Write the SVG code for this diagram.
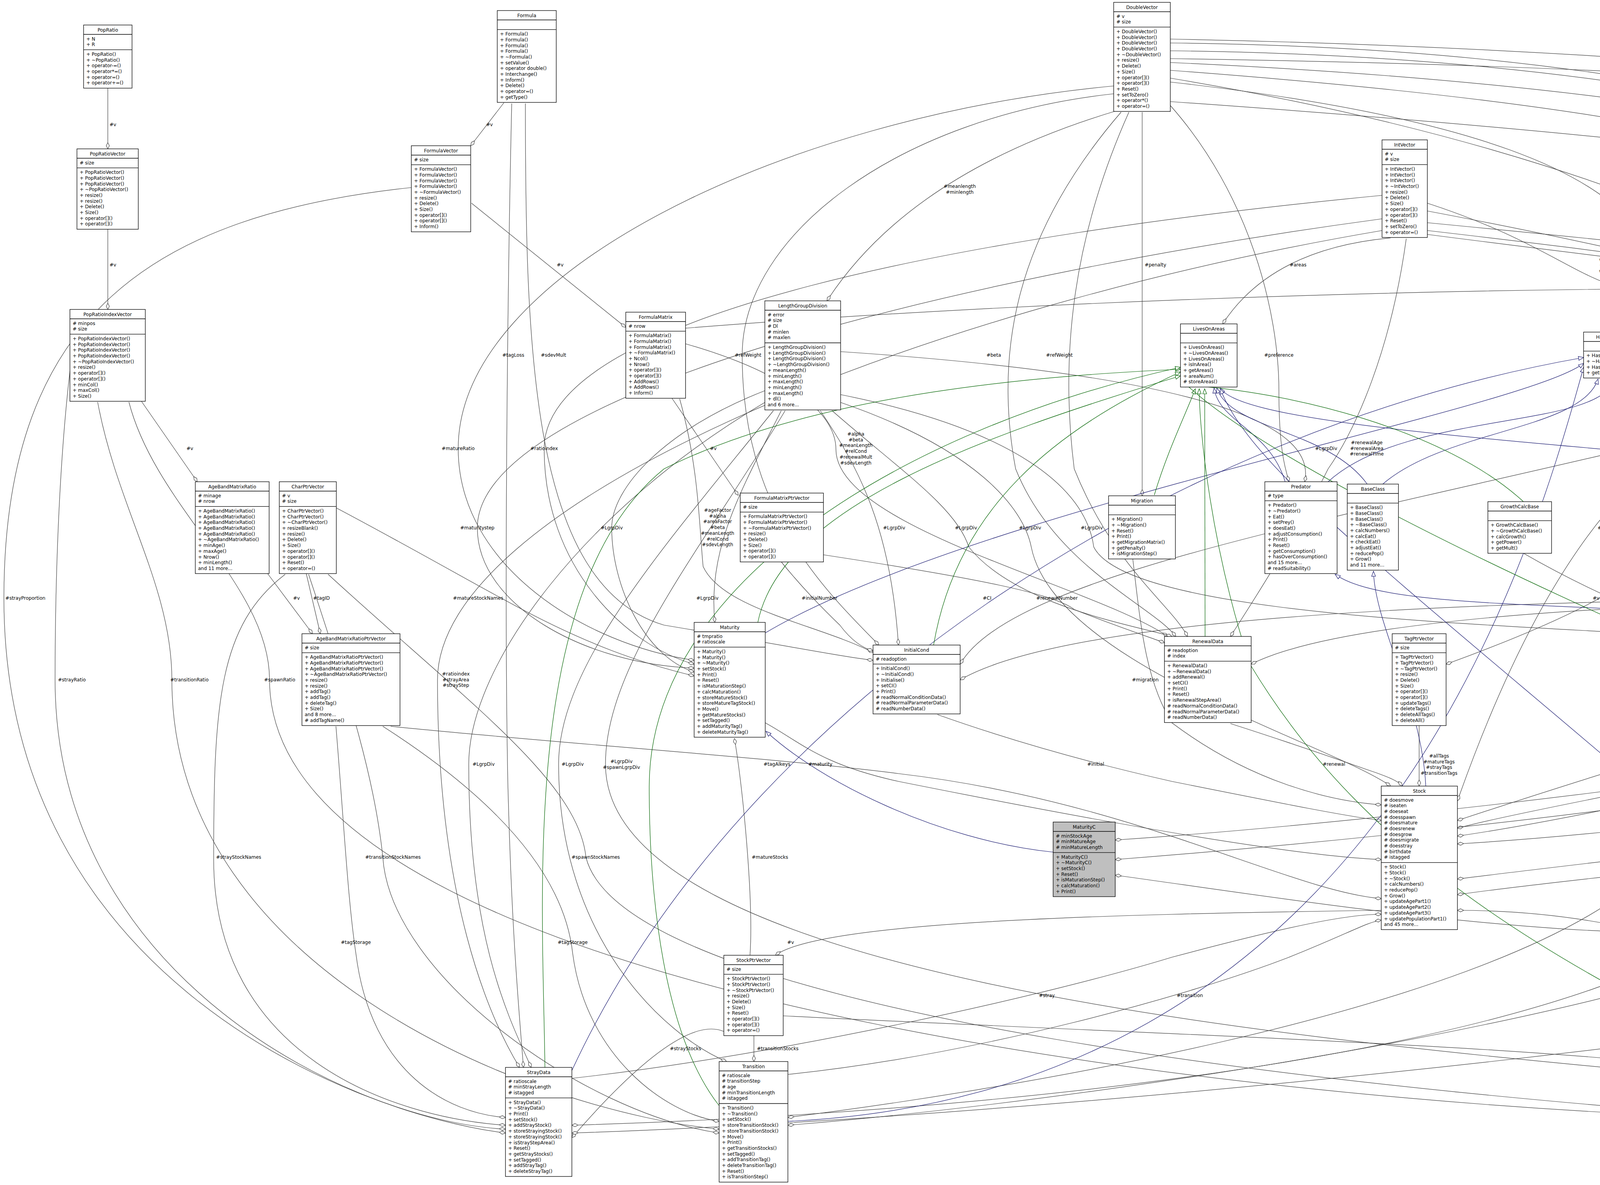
<svg xmlns="http://www.w3.org/2000/svg" width="7673" height="3033" viewBox="0 0 7673 3033">
<style>
text{font-family:"DejaVu Sans","Liberation Sans",sans-serif;font-size:12px;fill:#000}
.t,.l{text-anchor:middle}
rect{fill:#fff;stroke:#000;stroke-width:1.3}
.hl rect{fill:#bfbfbf}
line{stroke:#000;stroke-width:1.3}
.e{fill:none;stroke:#404040;stroke-width:1.2;marker-end:url(#dm)}
.i{fill:none;stroke:#191970;stroke-width:1.2;marker-end:url(#tb)}
.p{fill:none;stroke:#006400;stroke-width:1.2;marker-end:url(#tg)}
</style>
<defs>
<marker id="dm" markerUnits="userSpaceOnUse" markerWidth="16" markerHeight="10" refX="16" refY="5" orient="auto"><path d="M0,5 L8,1 L16,5 L8,9 Z" fill="#fff" stroke="#404040" stroke-width="1.2"/></marker>
<marker id="tb" markerUnits="userSpaceOnUse" markerWidth="15" markerHeight="12" refX="14" refY="6" orient="auto"><path d="M1,1 L14,6 L1,11 Z" fill="#fff" stroke="#191970" stroke-width="1.2"/></marker>
<marker id="tg" markerUnits="userSpaceOnUse" markerWidth="15" markerHeight="12" refX="14" refY="6" orient="auto"><path d="M1,1 L14,6 L1,11 Z" fill="#fff" stroke="#006400" stroke-width="1.2"/></marker>
</defs>
<rect x="0" y="0" width="7673" height="3033" style="fill:#fff;stroke:none"/>
<g id="connectors">
<path class="e" d="M276,226 L276,381"/>
<path class="e" d="M276,587 L276,792"/>
<path class="e" d="M1290,263 L1205,373"/>
<path class="e" d="M1207,520 L1602,838"/>
<path class="e" d="M2860,283 Q2331,441 2117,770"/>
<path class="e" d="M2996,150 C4300,170 5300,230 5640,385"/>
<path class="e" d="M2924,287 L2924,1269"/>
<path class="e" d="M3560,609 Q3255,637 3130,829"/>
<path class="e" d="M5777,585 L5943,807"/>
<path class="e" d="M6360,589 L6410,799"/>
<path class="e" d="M7160,240 L7146,352"/>
<path class="e" d="M7225,240 L7262,373"/>
<path class="e" d="M7085,616 L7060,792"/>
<path class="e" d="M7240,594 Q7394,636 6752,843"/>
<path class="e" d="M6025,1012 L6037,1262"/>
<path class="e" d="M7005,1027 L6975,1218"/>
<path class="e" d="M362,1027 L505,1233"/>
<path class="e" d="M685,1468 L800,1622"/>
<path class="e" d="M784,1468 L820,1622"/>
<path class="e" d="M4632,1078 L4700,1262"/>
<path class="e" d="M1720,1019 L1890,1268"/>
<path class="e" d="M3536,2330 C2800,2340 2100,2360 1985,2445"/>
<path class="e" d="M1930,2651 L1930,2717"/>
<path class="e" d="M1853,2640 Q1741,2592 1464,2912"/>
<path class="e" d="M3633,1857 L3633,2012"/>
<path class="e" d="M4575,1078 L4550,1578"/>
<path class="e" d="M4530,1078 L4480,1578"/>
<path class="e" d="M4490,1060 Q4050,1147 3731,2050"/>
<path class="e" d="M4659,820 C5100,850 5390,1000 5400,1239"/>
<path class="e" d="M4659,1000 C5000,1100 5230,1300 5450,1629"/>
<path class="e" d="M4490,1070 C3600,1300 2600,1450 2458,1700"/>
<path class="e" d="M2996,200 C4200,400 5020,800 5020,1148 L5040,1665"/>
<path class="e" d="M6362,900 C5600,950 5180,1050 5080,1269"/>
<path class="e" d="M3654,540 C4500,700 5270,900 5290,1148 C5300,1400 5480,1500 5500,1629"/>
<path class="e" d="M5700,617 C5680,900 5650,1200 5600,1300 C5300,1500 4900,1550 4628,1620"/>
<path class="e" d="M5740,617 C5760,1000 5720,1400 5600,1480 C5200,1560 4800,1600 4628,1660"/>
<path class="e" d="M4200,1461 Q4086,1560 3702,1700"/>
<path class="e" d="M3900,1416 Q4150,1560 4439,1650"/>
<path class="e" d="M6797,1440 C5800,1500 4800,1531 4704,1531 C3500,1540 2700,1600 2458,1740"/>
<path class="e" d="M6797,1460 C6000,1500 5300,1531 5077,1531 C4000,1540 3400,1600 3203,1700"/>
<path class="e" d="M5100,1433 Q5180,1531 5140,1665"/>
<path class="e" d="M4439,1880 Q4169,1956 3731,2100"/>
<path class="e" d="M5031,1800 C4700,1900 4529,1956 4300,2000 C4000,2060 3800,2100 3731,2120"/>
<path class="e" d="M5425,1840 C4900,1920 4632,1956 4400,2010 C4000,2100 3800,2130 3731,2140"/>
<path class="e" d="M6071,1800 C5600,1900 5247,1956 4800,2040 C4300,2120 3900,2150 3731,2160"/>
<path class="e" d="M2996,130 C4800,150 5834,600 5834,1100 C5834,1500 5700,1650 5641,1700"/>
<path class="e" d="M6650,1014 C6500,1100 6488,1300 6400,1450 C6100,1600 5800,1650 5641,1660"/>
<path class="e" d="M2996,110 C5000,130 5900,700 5891,1351 C5885,1600 5400,1700 5196,1720"/>
<path class="e" d="M6100,1014 C6240,1150 6243,1400 6100,1550 C5900,1680 5700,1690 5641,1690"/>
<path class="e" d="M5780,520 C6300,700 6385,1100 6385,1351 C6385,1900 3500,2150 2855,2200"/>
<path class="e" d="M6680,1014 C6600,1150 6593,1400 6400,1550 C5800,1700 5000,1690 4628,1700"/>
<path class="e" d="M6720,1014 C6740,1200 6740,1500 6500,1600 C6100,1700 5800,1690 5641,1680"/>
<path class="e" d="M7300,596 C7240,900 7242,1200 7242,1351 C7242,1900 4500,2150 3731,2250"/>
<path class="e" d="M5990,1440 C5950,1550 5800,1700 5641,1750"/>
<path class="e" d="M6420,1021 C6400,1300 6375,1450 6300,1560 C5500,1900 3600,2100 2855,2150"/>
<path class="e" d="M6850,1485 C6600,1530 6300,1560 6231,1659"/>
<path class="e" d="M6960,1485 L6960,2550 C6960,2800 5500,2860 4949,2865"/>
<path class="e" d="M6950,1485 C6950,1700 6900,1900 6500,2000 C5000,2150 4000,2250 3731,2290"/>
<path class="e" d="M6820,1485 C6500,1700 6398,2000 6380,2194 C6200,2500 3000,2850 1464,2900"/>
<path class="e" d="M1755,840 C3500,700 7100,640 7155,1100 L7155,2550 C7155,2800 5500,2860 4949,2862"/>
<path class="e" d="M6553,900 C7000,950 7298,1000 7298,1300 L7298,2550 C7298,2820 5500,2860 4949,2858"/>
<path class="e" d="M2996,100 C5500,150 7100,500 7400,900 C7500,1100 7516,1300 7516,1500 L7516,2550 C7516,2820 5500,2860 4949,2856"/>
<path class="e" d="M3654,570 C5000,700 7000,900 7220,1300 C7260,1600 7250,2000 7200,2450 C7100,2800 5500,2860 4949,2868"/>
<path class="e" d="M3654,600 C5200,800 7350,1000 7420,1400 C7440,1800 7440,2300 7400,2500 C7200,2830 5500,2862 4949,2870"/>
<path class="e" d="M5150,1433 C5300,1500 5387,1700 5387,2000 L5387,2550 C5387,2780 5100,2840 4958,2855"/>
<path class="e" d="M1310,265 C1300,700 1290,1500 1300,2000 C1310,2400 1330,2600 1340,2732"/>
<path class="e" d="M1345,265 C1345,900 1360,1500 1700,1600 C2000,1650 2150,1680 2235,1690"/>
<path class="e" d="M2851,240 C2300,300 1900,600 1900,909 C1900,1300 2100,1500 2250,1651"/>
<path class="e" d="M2870,287 C2600,600 2544,900 2600,1200 C2700,1450 2950,1550 3010,1629"/>
<path class="e" d="M2890,287 C2750,600 2712,900 2750,1200 C2850,1450 3000,1550 3040,1629"/>
<path class="e" d="M2996,270 C3200,500 3274,800 3274,1000 C3274,1150 3290,1200 3300,1233"/>
<path class="e" d="M2996,210 C3800,300 4100,450 4200,600 C4300,750 4400,820 4490,852"/>
<path class="e" d="M3654,520 C3900,600 4000,680 4100,720 C4300,780 4400,830 4490,866"/>
<path class="e" d="M2996,180 C4600,300 5450,500 5460,1239"/>
<path class="e" d="M3654,590 C4600,700 5390,800 5400,1239"/>
<path class="e" d="M5660,617 C5620,900 5500,1100 5480,1239"/>
<path class="e" d="M2996,160 C5000,250 5819,600 5800,1000 C5780,1150 5600,1250 5523,1280"/>
<path class="e" d="M2996,260 C5000,400 6238,600 6238,910 C6238,1300 5000,1550 4628,1630"/>
<path class="e" d="M2851,220 C2000,300 1173,700 1173,1148 C1173,1450 1500,1650 1777,1690"/>
<path class="e" d="M3538,500 C2500,600 1393,800 1393,1148 C1393,1450 1600,1650 1777,1700"/>
<path class="e" d="M3538,560 C2500,700 1222,1000 1222,1351 C1222,1550 1500,1700 1777,1710"/>
<path class="e" d="M1958,1000 C1700,1100 1566,1250 1566,1351 C1566,1500 1650,1680 1777,1720"/>
<path class="e" d="M1053,480 C400,550 10,800 10,1531 C10,2500 900,2850 1294,2900"/>
<path class="e" d="M861,1300 C1050,1400 1224,1500 1300,1540 C1500,1650 1650,1700 1777,1730"/>
<path class="e" d="M2000,1051 C1900,1250 1811,1400 1830,1593"/>
<path class="e" d="M179,950 C150,1200 141,1500 141,1740 C141,2500 900,2870 1294,2890"/>
<path class="e" d="M250,1029 C300,1300 440,1500 440,1740 C440,2500 1400,2850 1841,2890"/>
<path class="e" d="M330,1029 C400,1300 690,1500 690,1740 C690,2600 3500,2860 4779,2870"/>
<path class="e" d="M3538,590 C2300,800 1120,1300 1120,1740 C1120,2300 1250,2600 1330,2732"/>
<path class="e" d="M1958,1030 C1500,1300 1200,1700 1200,1956 C1200,2400 1300,2600 1360,2732"/>
<path class="e" d="M1980,1051 C1700,1400 1430,1700 1430,1956 C1430,2400 1700,2650 1860,2717"/>
<path class="e" d="M2010,1051 C1800,1400 1550,1700 1550,1956 C1550,2600 4000,2700 4779,2800"/>
<path class="e" d="M1755,880 C2000,950 2140,1050 2140,1150 C2140,1350 2800,1500 2990,1629"/>
<path class="e" d="M1740,1021 C1790,1200 1790,1350 1800,1450 C1850,1560 2100,1600 2235,1670"/>
<path class="e" d="M2152,900 C2900,950 3380,1050 3340,1233"/>
<path class="e" d="M3600,611 C3560,900 3470,1100 3400,1200 C3300,1400 3200,1550 3150,1629"/>
<path class="e" d="M2100,1051 C2200,1200 2280,1350 2300,1651"/>
<path class="e" d="M2130,1051 C2300,1200 2450,1300 2480,1400 C2600,1550 2900,1600 3000,1629"/>
<path class="e" d="M2152,1030 C2500,1150 2620,1300 2640,1400 C2700,1700 3400,1900 3560,2012"/>
<path class="e" d="M2152,1010 C2600,1100 2780,1250 2800,1400 C2900,1600 4100,1600 4439,1640"/>
<path class="e" d="M2000,1438 C2050,1500 2098,1550 2150,1600 C2180,1640 2210,1660 2235,1665"/>
<path class="e" d="M2108,1420 C2500,1480 2700,1520 2750,1560 C2850,1600 2940,1630 2981,1645"/>
<path class="e" d="M2900,1431 C2920,1600 2932,1740 3000,1850 C3200,2000 3400,2050 3536,2060"/>
<path class="e" d="M1000,1859 C1400,1900 1989,1940 2300,1980 C2900,2050 3300,2280 3536,2300"/>
<path class="e" d="M1959,1850 C2050,1900 2100,1956 2300,2000 C2800,2100 3300,2190 3536,2200"/>
<path class="e" d="M2400,1829 C2600,1900 2805,1956 3000,2000 C3300,2060 3450,2090 3536,2100"/>
<path class="e" d="M3150,1852 C3300,1900 3415,1940 3500,1970 C3560,1990 3580,2000 3590,2012"/>
<path class="e" d="M1920,2445 C1930,2300 1900,2000 1880,1890"/>
<path class="e" d="M730,1470 C560,1600 547,1800 547,2200 C547,2700 1000,2860 1294,2880"/>
<path class="e" d="M790,1470 C900,1800 960,2000 980,2194 C1000,2500 1500,2850 1841,2900"/>
<path class="e" d="M840,1470 C1200,1800 1480,2000 1500,2194 C1600,2600 3500,2800 4779,2880"/>
<path class="e" d="M860,1859 C880,2100 890,2300 911,2440 C950,2750 1150,2850 1294,2860"/>
<path class="e" d="M980,1859 C1200,2000 1440,2200 1466,2440 C1500,2700 1700,2850 1841,2870"/>
<path class="e" d="M4500,1081 C4400,1600 4276,2000 4200,2250 C3800,2600 2500,2800 2017,2860"/>
<path class="e" d="M5050,1433 C4900,1700 4622,2000 4560,2250 C4200,2700 2500,2850 1464,2880"/>
<path class="e" d="M4600,1081 C4750,1600 4760,2000 4700,2300 C4500,2500 3300,2300 2855,2240"/>
<path class="e" d="M4650,1060 C4960,1300 4968,1800 4968,2194 C4968,2500 4940,2650 4934,2723"/>
<path class="e" d="M6797,1420 C5500,1550 4880,1700 4869,2194 C4850,2500 3000,2800 2017,2880"/>
<path class="e" d="M4779,2760 C4650,2650 4627,2548 4500,2480 C4200,2350 3900,2330 3731,2330"/>
<path class="e" d="M2005,2600 C3000,2650 4211,2684 4500,2760 C4650,2820 4720,2850 4779,2855"/>
<path class="e" d="M1464,2760 C2000,2700 2680,2548 3000,2450 C3300,2370 3450,2340 3536,2340"/>
<path class="e" d="M2017,2750 C2500,2700 3046,2548 3300,2450 C3450,2390 3500,2360 3536,2355"/>
<path class="i" d="M3500,1239 C3400,1100 3150,1100 3115,993"/>
<path class="i" d="M3540,1239 C3700,1100 4050,1100 4091,970"/>
<path class="i" d="M3650,2012 C3640,1800 3520,1600 3516,1462"/>
<path class="i" d="M3290,1233 C3250,1100 3120,1080 3108,993"/>
<path class="i" d="M3400,1233 C3600,1050 4100,1100 4132,970"/>
<path class="i" d="M5425,1700 C4500,1500 3600,1600 3418,1470"/>
<path class="i" d="M5309,1250 C5000,1100 4400,1000 4176,930"/>
<path class="i" d="M5309,1280 C4500,1150 3200,1120 3124,993"/>
<path class="i" d="M6120,1659 C6000,1480 5700,1480 5525,1432"/>
<path class="i" d="M2696,2181 C2400,2150 2100,2000 1961,1872"/>
<path class="i" d="M1959,1620 C2500,1300 3900,1050 4054,930"/>
<path class="i" d="M4825,2723 C4700,2500 4500,2300 4300,2100 C3600,1500 3200,1200 3124,995"/>
<path class="i" d="M4840,2723 C4800,2200 4200,1200 4181,970"/>
<path class="i" d="M1464,2740 C1900,1800 3000,1100 4054,915"/>
<path class="i" d="M2017,2870 C3500,2800 3900,1500 4054,940"/>
<path class="i" d="M4220,1239 C4200,1100 4140,1050 4132,970"/>
<path class="i" d="M5000,1280 C4800,1100 4400,1000 4176,955"/>
<path class="i" d="M5031,1680 C4600,1500 4300,1200 4181,970"/>
<path class="p" d="M2955,1267 C2990,1150 3040,1050 3060,995"/>
<path class="p" d="M3085,1629 L3084,995"/>
<path class="p" d="M2390,1651 C2450,1300 2700,1100 3022,952"/>
<path class="p" d="M1940,1593 C2000,1300 2500,1120 3022,962"/>
<path class="p" d="M4439,1722 C3800,1450 3200,1150 3022,970"/>
<path class="p" d="M1395,2732 C1390,2300 1330,1500 1700,1200 C2100,1000 2700,960 3022,945"/>
<path class="p" d="M1841,2830 C1700,2650 1662,2300 1662,2013 C1662,1500 2300,1100 3022,940"/>
<path class="p" d="M4779,2840 C4000,2500 3500,2200 3200,1700 C3100,1400 3070,1100 3070,995"/>
<path class="p" d="M3900,1284 C3700,1100 3300,1000 3022,985"/>
<text class="l" x="289" y="323">#v</text>
<text class="l" x="1253" y="323">#v</text>
<text class="l" x="289" y="682">#v</text>
<text class="l" x="1434" y="682">#v</text>
<text class="l" x="1314" y="913">#tagLoss</text>
<text class="l" x="1417" y="913">#sdevMult</text>
<text class="l" x="1915" y="913">#refWeight</text>
<text class="l" x="2457" y="481">#meanlength<tspan x="2457" dy="14.7">#minlength</tspan></text>
<text class="l" x="2958" y="682">#penalty</text>
<text class="l" x="3323" y="682">#areas</text>
<text class="l" x="2544" y="913">#beta</text>
<text class="l" x="2712" y="913">#refWeight</text>
<text class="l" x="3274" y="913">#preference</text>
<text class="l" x="4140" y="487">#iratio</text>
<text class="l" x="5540" y="323">#v</text>
<text class="l" x="4122" y="653">#ipos<tspan x="4122" dy="14.7">#maxpos</tspan><tspan x="4122" dy="14.7">#minpos</tspan><tspan x="4122" dy="14.7">#numpos</tspan><tspan x="4122" dy="14.7">#pos</tspan></text>
<text class="l" x="5464" y="682">#total</text>
<text class="l" x="5396" y="913">#isoverconsumption</text>
<text class="l" x="5626" y="869">#biomass<tspan x="5626" dy="14.7">#cons</tspan><tspan x="5626" dy="14.7">#consratio</tspan><tspan x="5626" dy="14.7">#consumption</tspan><tspan x="5626" dy="14.7">#overconsumption</tspan><tspan x="5626" dy="14.7">#ratio</tspan><tspan x="5626" dy="14.7">#useratio</tspan></text>
<text class="l" x="7165" y="323">#v</text>
<text class="l" x="7265" y="323">#v</text>
<text class="l" x="5889" y="682">#v</text>
<text class="l" x="6409" y="682">#v</text>
<text class="l" x="7094" y="682">#v</text>
<text class="l" x="7209" y="682">#v</text>
<text class="l" x="5819" y="913">#energy</text>
<text class="l" x="6238" y="891">#dummyfphi<tspan x="6238" dy="14.7">#part1</tspan><tspan x="6238" dy="14.7">#part2</tspan><tspan x="6238" dy="14.7">#part4</tspan></text>
<text class="l" x="486" y="1152">#v</text>
<text class="l" x="1173" y="1152">#matureRatio</text>
<text class="l" x="1393" y="1152">#ratioindex</text>
<text class="l" x="1826" y="1152">#v</text>
<text class="l" x="1837" y="1310">#ageFactor<tspan x="1837" dy="14.7">#alpha</tspan><tspan x="1837" dy="14.7">#areaFactor</tspan><tspan x="1837" dy="14.7">#beta</tspan><tspan x="1837" dy="14.7">#meanLength</tspan><tspan x="1837" dy="14.7">#relCond</tspan><tspan x="1837" dy="14.7">#sdevLength</tspan></text>
<text class="l" x="1222" y="1355">#maturitystep</text>
<text class="l" x="1566" y="1355">#LgrpDiv</text>
<text class="l" x="65" y="1535">#strayProportion</text>
<text class="l" x="759" y="1535">#v</text>
<text class="l" x="823" y="1535">#tagID</text>
<text class="l" x="1224" y="1535">#matureStockNames</text>
<text class="l" x="1811" y="1535">#LgrpDiv</text>
<text class="l" x="184" y="1744">#strayRatio</text>
<text class="l" x="485" y="1744">#transitionRatio</text>
<text class="l" x="716" y="1744">#spawnRatio</text>
<text class="l" x="1167" y="1729">#ratioindex<tspan x="1167" dy="14.7">#strayArea</tspan><tspan x="1167" dy="14.7">#strayStep</tspan></text>
<text class="l" x="1238" y="1960">#LgrpDiv</text>
<text class="l" x="1466" y="1960">#LgrpDiv</text>
<text class="l" x="1591" y="1953">#LgrpDiv<tspan x="1591" dy="14.7">#spawnLgrpDiv</tspan></text>
<text class="l" x="2191" y="1115">#alpha<tspan x="2191" dy="14.7">#beta</tspan><tspan x="2191" dy="14.7">#meanLength</tspan><tspan x="2191" dy="14.7">#relCond</tspan><tspan x="2191" dy="14.7">#renewalMult</tspan><tspan x="2191" dy="14.7">#sdevLength</tspan></text>
<text class="l" x="3395" y="1152">#LgrpDiv</text>
<text class="l" x="3499" y="1137">#renewalAge<tspan x="3499" dy="14.7">#renewalArea</tspan><tspan x="3499" dy="14.7">#renewalTime</tspan></text>
<text class="l" x="2289" y="1355">#LgrpDiv</text>
<text class="l" x="2473" y="1355">#LgrpDiv</text>
<text class="l" x="2637" y="1355">#LgrpDiv</text>
<text class="l" x="2795" y="1355">#LgrpDiv</text>
<text class="l" x="2098" y="1535">#initialNumber</text>
<text class="l" x="2527" y="1535">#CI</text>
<text class="l" x="2706" y="1535">#renewalNumber</text>
<text class="l" x="2932" y="1744">#migration</text>
<text class="l" x="1989" y="1960">#tagAlkeys</text>
<text class="l" x="2100" y="1960">#maturity</text>
<text class="l" x="2805" y="1960">#initial</text>
<text class="l" x="3415" y="1960">#renewal</text>
<text class="l" x="3684" y="1939">#allTags<tspan x="3684" dy="14.7">#matureTags</tspan><tspan x="3684" dy="14.7">#strayTags</tspan><tspan x="3684" dy="14.7">#transitionTags</tspan></text>
<text class="l" x="4702" y="1152">#v</text>
<text class="l" x="5046" y="1152">#proportion</text>
<text class="l" x="5171" y="1152">#coeff</text>
<text class="l" x="5295" y="1152">#hasoverconsumption</text>
<text class="l" x="5417" y="1152">#CI</text>
<text class="l" x="5666" y="1130">#calcLengthGrowth<tspan x="5666" dy="14.7">#calcWeightGrowth</tspan><tspan x="5666" dy="14.7">#interpLengthGrowth</tspan><tspan x="5666" dy="14.7">#interpWeightGrowth</tspan></text>
<text class="l" x="4101" y="1355">#CI</text>
<text class="l" x="4515" y="1355">#CI</text>
<text class="l" x="4587" y="1355">#CI</text>
<text class="l" x="5240" y="1355">#CI</text>
<text class="l" x="5725" y="1346">#lgrowth<tspan x="5725" dy="14.7">#wgrowth</tspan></text>
<text class="l" x="4086" y="1535">#v</text>
<text class="l" x="4189" y="1535">#growthcalc</text>
<text class="l" x="4704" y="1535">#initialPop</text>
<text class="l" x="5077" y="1535">#renewalDistribution</text>
<text class="l" x="5204" y="1535">#fnMortality</text>
<text class="l" x="4169" y="1960">#grower</text>
<text class="l" x="4529" y="1960">#naturalm</text>
<text class="l" x="4632" y="1960">#predator</text>
<text class="l" x="5247" y="1960">#prey</text>
<text class="l" x="5834" y="1130">#overcons<tspan x="5834" dy="14.7">#overconsumption</tspan><tspan x="5834" dy="14.7">#totalcons</tspan><tspan x="5834" dy="14.7">#totalconsumption</tspan></text>
<text class="l" x="6047" y="1152">#v</text>
<text class="l" x="6488" y="1152">#preynumber</text>
<text class="l" x="6992" y="1152">#v</text>
<text class="l" x="5891" y="1355">#mortality</text>
<text class="l" x="6243" y="1355">#predratio</text>
<text class="l" x="6385" y="1355">#preCalcMaturation</text>
<text class="l" x="6593" y="1355">#numGrow</text>
<text class="l" x="6740" y="1355">#prednumber</text>
<text class="l" x="7242" y="1355">#tmpMigrate</text>
<text class="l" x="5928" y="1520">#cons<tspan x="5928" dy="14.7">#consumption</tspan><tspan x="5928" dy="14.7">#usesuit</tspan></text>
<text class="l" x="6375" y="1535">#maturityParameters</text>
<text class="l" x="6528" y="1535">#preyAlkeys</text>
<text class="l" x="6980" y="1535">#tmpPopulation</text>
<text class="l" x="7602" y="1520">#spawnMortality<tspan x="7602" dy="14.7">#spawnProportion</tspan><tspan x="7602" dy="14.7">#spawnWeightLoss</tspan></text>
<text class="l" x="6463" y="1744">#Alkeys</text>
<text class="l" x="7258" y="1744">#ratioindex</text>
<text class="l" x="7456" y="1729">#ratioindex<tspan x="7456" dy="14.7">#spawnArea</tspan><tspan x="7456" dy="14.7">#spawnStep</tspan></text>
<text class="l" x="7215" y="1960">#spawnNumbers</text>
<text class="l" x="7367" y="1953">#spawnParameters<tspan x="7367" dy="14.7">#stockParameters</tspan></text>
<text class="l" x="611" y="2198">#strayStockNames</text>
<text class="l" x="1006" y="2198">#transitionStockNames</text>
<text class="l" x="1525" y="2198">#spawnStockNames</text>
<text class="l" x="1971" y="2198">#matureStocks</text>
<text class="l" x="911" y="2416">#tagStorage</text>
<text class="l" x="1466" y="2416">#tagStorage</text>
<text class="l" x="2024" y="2416">#v</text>
<text class="l" x="1755" y="2688">#strayStocks</text>
<text class="l" x="1991" y="2688">#transitionStocks</text>
<text class="l" x="4276" y="2198">#CI</text>
<text class="l" x="4622" y="2198">#fnProportion</text>
<text class="l" x="4771" y="2198">#CI</text>
<text class="l" x="4910" y="2198">#Storage</text>
<text class="l" x="4985" y="2198">#CI</text>
<text class="l" x="5437" y="2184">#fnMortality<tspan x="5437" dy="14.7">#fnProportion</tspan><tspan x="5437" dy="14.7">#fnWeightLoss</tspan></text>
<text class="l" x="4627" y="2552">#spawner</text>
<text class="l" x="4211" y="2688">#spawnStocks</text>
<text class="l" x="6398" y="2198">#Storage</text>
<text class="l" x="6991" y="2198">#Storage</text>
<text class="l" x="2680" y="2552">#stray</text>
<text class="l" x="3046" y="2552">#transition</text>
</g>
<g id="n_PopRatio" transform="translate(214,64)"><rect width="124" height="161.6"/><text class="t" x="62" y="17">PopRatio</text><line x1="0" y1="24" x2="124" y2="24"/><text x="7" y="39.5">+ N<tspan x="7" dy="14.7">+ R</tspan></text><line x1="0" y1="63.4" x2="124" y2="63.4"/><text x="7" y="78.9">+ PopRatio()<tspan x="7" dy="14.7">+ ~PopRatio()</tspan><tspan x="7" dy="14.7">+ operator-=()</tspan><tspan x="7" dy="14.7">+ operator*=()</tspan><tspan x="7" dy="14.7">+ operator=()</tspan><tspan x="7" dy="14.7">+ operator+=()</tspan></text></g>
<g id="n_Formula" transform="translate(1273,27)"><rect width="151" height="235.1"/><text class="t" x="75.5" y="17">Formula</text><line x1="0" y1="24" x2="151" y2="24"/><line x1="0" y1="48.7" x2="151" y2="48.7"/><text x="7" y="64.2">+ Formula()<tspan x="7" dy="14.7">+ Formula()</tspan><tspan x="7" dy="14.7">+ Formula()</tspan><tspan x="7" dy="14.7">+ Formula()</tspan><tspan x="7" dy="14.7">+ ~Formula()</tspan><tspan x="7" dy="14.7">+ setValue()</tspan><tspan x="7" dy="14.7">+ operator double()</tspan><tspan x="7" dy="14.7">+ Interchange()</tspan><tspan x="7" dy="14.7">+ Inform()</tspan><tspan x="7" dy="14.7">+ Delete()</tspan><tspan x="7" dy="14.7">+ operator=()</tspan><tspan x="7" dy="14.7">+ getType()</tspan></text></g>
<g id="n_DoubleVector" transform="translate(2851,6)"><rect width="145" height="279.2"/><text class="t" x="72.5" y="17">DoubleVector</text><line x1="0" y1="24" x2="145" y2="24"/><text x="7" y="39.5"># v<tspan x="7" dy="14.7"># size</tspan></text><line x1="0" y1="63.4" x2="145" y2="63.4"/><text x="7" y="78.9">+ DoubleVector()<tspan x="7" dy="14.7">+ DoubleVector()</tspan><tspan x="7" dy="14.7">+ DoubleVector()</tspan><tspan x="7" dy="14.7">+ DoubleVector()</tspan><tspan x="7" dy="14.7">+ ~DoubleVector()</tspan><tspan x="7" dy="14.7">+ resize()</tspan><tspan x="7" dy="14.7">+ Delete()</tspan><tspan x="7" dy="14.7">+ Size()</tspan><tspan x="7" dy="14.7">+ operator[]()</tspan><tspan x="7" dy="14.7">+ operator[]()</tspan><tspan x="7" dy="14.7">+ Reset()</tspan><tspan x="7" dy="14.7">+ setToZero()</tspan><tspan x="7" dy="14.7">+ operator*()</tspan><tspan x="7" dy="14.7">+ operator=()</tspan></text></g>
<g id="n_IntVector" transform="translate(3538,358)"><rect width="116" height="249.8"/><text class="t" x="58" y="17">IntVector</text><line x1="0" y1="24" x2="116" y2="24"/><text x="7" y="39.5"># v<tspan x="7" dy="14.7"># size</tspan></text><line x1="0" y1="63.4" x2="116" y2="63.4"/><text x="7" y="78.9">+ IntVector()<tspan x="7" dy="14.7">+ IntVector()</tspan><tspan x="7" dy="14.7">+ IntVector()</tspan><tspan x="7" dy="14.7">+ ~IntVector()</tspan><tspan x="7" dy="14.7">+ resize()</tspan><tspan x="7" dy="14.7">+ Delete()</tspan><tspan x="7" dy="14.7">+ Size()</tspan><tspan x="7" dy="14.7">+ operator[]()</tspan><tspan x="7" dy="14.7">+ operator[]()</tspan><tspan x="7" dy="14.7">+ Reset()</tspan><tspan x="7" dy="14.7">+ setToZero()</tspan><tspan x="7" dy="14.7">+ operator=()</tspan></text></g>
<g id="n_DoubleMatrix" transform="translate(5635,352)"><rect width="145" height="264.5"/><text class="t" x="72.5" y="17">DoubleMatrix</text><line x1="0" y1="24" x2="145" y2="24"/><text x="7" y="39.5"># nrow</text><line x1="0" y1="48.7" x2="145" y2="48.7"/><text x="7" y="64.2">+ DoubleMatrix()<tspan x="7" dy="14.7">+ DoubleMatrix()</tspan><tspan x="7" dy="14.7">+ DoubleMatrix()</tspan><tspan x="7" dy="14.7">+ ~DoubleMatrix()</tspan><tspan x="7" dy="14.7">+ Ncol()</tspan><tspan x="7" dy="14.7">+ Nrow()</tspan><tspan x="7" dy="14.7">+ operator[]()</tspan><tspan x="7" dy="14.7">+ operator[]()</tspan><tspan x="7" dy="14.7">+ AddRows()</tspan><tspan x="7" dy="14.7">+ Delete()</tspan><tspan x="7" dy="14.7">+ Reset()</tspan><tspan x="7" dy="14.7">+ setToZero()</tspan><tspan x="7" dy="14.7">+ Print()</tspan><tspan x="7" dy="14.7">+ operator=()</tspan></text></g>
<g id="n_ModelVariable" transform="translate(6253,381)"><rect width="150" height="205.7"/><text class="t" x="75" y="17">ModelVariable</text><line x1="0" y1="24" x2="150" y2="24"/><line x1="0" y1="48.7" x2="150" y2="48.7"/><text x="7" y="64.2">+ ModelVariable()<tspan x="7" dy="14.7">+ ~ModelVariable()</tspan><tspan x="7" dy="14.7">+ read()</tspan><tspan x="7" dy="14.7">+ operator double()</tspan><tspan x="7" dy="14.7">+ Interchange()</tspan><tspan x="7" dy="14.7">+ setValue()</tspan><tspan x="7" dy="14.7">+ Update()</tspan><tspan x="7" dy="14.7">+ Delete()</tspan><tspan x="7" dy="14.7">+ didChange()</tspan><tspan x="7" dy="14.7">+ getMVType()</tspan></text></g>
<g id="n_PopInfo" transform="translate(7139,49)"><rect width="124" height="191"/><text class="t" x="62" y="17">PopInfo</text><line x1="0" y1="24" x2="124" y2="24"/><text x="7" y="39.5">+ N<tspan x="7" dy="14.7">+ W</tspan></text><line x1="0" y1="63.4" x2="124" y2="63.4"/><text x="7" y="78.9">+ PopInfo()<tspan x="7" dy="14.7">+ ~PopInfo()</tspan><tspan x="7" dy="14.7">+ operator-=()</tspan><tspan x="7" dy="14.7">+ operator*=()</tspan><tspan x="7" dy="14.7">+ setToZero()</tspan><tspan x="7" dy="14.7">+ operator=()</tspan><tspan x="7" dy="14.7">+ operator+=()</tspan><tspan x="7" dy="14.7">+ operator*()</tspan></text></g>
<g id="n_PopRatioVector" transform="translate(197,381)"><rect width="157" height="205.7"/><text class="t" x="78.5" y="17">PopRatioVector</text><line x1="0" y1="24" x2="157" y2="24"/><text x="7" y="39.5"># size</text><line x1="0" y1="48.7" x2="157" y2="48.7"/><text x="7" y="64.2">+ PopRatioVector()<tspan x="7" dy="14.7">+ PopRatioVector()</tspan><tspan x="7" dy="14.7">+ PopRatioVector()</tspan><tspan x="7" dy="14.7">+ ~PopRatioVector()</tspan><tspan x="7" dy="14.7">+ resize()</tspan><tspan x="7" dy="14.7">+ resize()</tspan><tspan x="7" dy="14.7">+ Delete()</tspan><tspan x="7" dy="14.7">+ Size()</tspan><tspan x="7" dy="14.7">+ operator[]()</tspan><tspan x="7" dy="14.7">+ operator[]()</tspan></text></g>
<g id="n_FormulaVector" transform="translate(1053,373)"><rect width="152" height="220.4"/><text class="t" x="76" y="17">FormulaVector</text><line x1="0" y1="24" x2="152" y2="24"/><text x="7" y="39.5"># size</text><line x1="0" y1="48.7" x2="152" y2="48.7"/><text x="7" y="64.2">+ FormulaVector()<tspan x="7" dy="14.7">+ FormulaVector()</tspan><tspan x="7" dy="14.7">+ FormulaVector()</tspan><tspan x="7" dy="14.7">+ FormulaVector()</tspan><tspan x="7" dy="14.7">+ ~FormulaVector()</tspan><tspan x="7" dy="14.7">+ resize()</tspan><tspan x="7" dy="14.7">+ Delete()</tspan><tspan x="7" dy="14.7">+ Size()</tspan><tspan x="7" dy="14.7">+ operator[]()</tspan><tspan x="7" dy="14.7">+ operator[]()</tspan><tspan x="7" dy="14.7">+ Inform()</tspan></text></g>
<g id="n_PopInfoIndexVector" transform="translate(7015,352)"><rect width="184" height="264.5"/><text class="t" x="92" y="17">PopInfoIndexVector</text><line x1="0" y1="24" x2="184" y2="24"/><text x="7" y="39.5"># minpos<tspan x="7" dy="14.7"># size</tspan></text><line x1="0" y1="63.4" x2="184" y2="63.4"/><text x="7" y="78.9">+ PopInfoIndexVector()<tspan x="7" dy="14.7">+ PopInfoIndexVector()</tspan><tspan x="7" dy="14.7">+ PopInfoIndexVector()</tspan><tspan x="7" dy="14.7">+ PopInfoIndexVector()</tspan><tspan x="7" dy="14.7">+ ~PopInfoIndexVector()</tspan><tspan x="7" dy="14.7">+ resize()</tspan><tspan x="7" dy="14.7">+ operator[]()</tspan><tspan x="7" dy="14.7">+ operator[]()</tspan><tspan x="7" dy="14.7">+ minCol()</tspan><tspan x="7" dy="14.7">+ maxCol()</tspan><tspan x="7" dy="14.7">+ Size()</tspan><tspan x="7" dy="14.7">+ Add()</tspan><tspan x="7" dy="14.7">+ Add()</tspan></text></g>
<g id="n_PopInfoVector" transform="translate(7222,373)"><rect width="149" height="220.4"/><text class="t" x="74.5" y="17">PopInfoVector</text><line x1="0" y1="24" x2="149" y2="24"/><text x="7" y="39.5"># size</text><line x1="0" y1="48.7" x2="149" y2="48.7"/><text x="7" y="64.2">+ PopInfoVector()<tspan x="7" dy="14.7">+ PopInfoVector()</tspan><tspan x="7" dy="14.7">+ PopInfoVector()</tspan><tspan x="7" dy="14.7">+ ~PopInfoVector()</tspan><tspan x="7" dy="14.7">+ resizeBlank()</tspan><tspan x="7" dy="14.7">+ resize()</tspan><tspan x="7" dy="14.7">+ Delete()</tspan><tspan x="7" dy="14.7">+ Size()</tspan><tspan x="7" dy="14.7">+ operator[]()</tspan><tspan x="7" dy="14.7">+ operator[]()</tspan><tspan x="7" dy="14.7">+ Sum()</tspan></text></g>
<g id="n_PopRatioIndexVector" transform="translate(179,792)"><rect width="193" height="235.1"/><text class="t" x="96.5" y="17">PopRatioIndexVector</text><line x1="0" y1="24" x2="193" y2="24"/><text x="7" y="39.5"># minpos<tspan x="7" dy="14.7"># size</tspan></text><line x1="0" y1="63.4" x2="193" y2="63.4"/><text x="7" y="78.9">+ PopRatioIndexVector()<tspan x="7" dy="14.7">+ PopRatioIndexVector()</tspan><tspan x="7" dy="14.7">+ PopRatioIndexVector()</tspan><tspan x="7" dy="14.7">+ PopRatioIndexVector()</tspan><tspan x="7" dy="14.7">+ ~PopRatioIndexVector()</tspan><tspan x="7" dy="14.7">+ resize()</tspan><tspan x="7" dy="14.7">+ operator[]()</tspan><tspan x="7" dy="14.7">+ operator[]()</tspan><tspan x="7" dy="14.7">+ minCol()</tspan><tspan x="7" dy="14.7">+ maxCol()</tspan><tspan x="7" dy="14.7">+ Size()</tspan></text></g>
<g id="n_FormulaMatrix" transform="translate(1602,799)"><rect width="153" height="220.4"/><text class="t" x="76.5" y="17">FormulaMatrix</text><line x1="0" y1="24" x2="153" y2="24"/><text x="7" y="39.5"># nrow</text><line x1="0" y1="48.7" x2="153" y2="48.7"/><text x="7" y="64.2">+ FormulaMatrix()<tspan x="7" dy="14.7">+ FormulaMatrix()</tspan><tspan x="7" dy="14.7">+ FormulaMatrix()</tspan><tspan x="7" dy="14.7">+ ~FormulaMatrix()</tspan><tspan x="7" dy="14.7">+ Ncol()</tspan><tspan x="7" dy="14.7">+ Nrow()</tspan><tspan x="7" dy="14.7">+ operator[]()</tspan><tspan x="7" dy="14.7">+ operator[]()</tspan><tspan x="7" dy="14.7">+ AddRows()</tspan><tspan x="7" dy="14.7">+ AddRows()</tspan><tspan x="7" dy="14.7">+ Inform()</tspan></text></g>
<g id="n_LengthGroupDivision" transform="translate(1958,770)"><rect width="194" height="279.2"/><text class="t" x="97" y="17">LengthGroupDivision</text><line x1="0" y1="24" x2="194" y2="24"/><text x="7" y="39.5"># error<tspan x="7" dy="14.7"># size</tspan><tspan x="7" dy="14.7"># Dl</tspan><tspan x="7" dy="14.7"># minlen</tspan><tspan x="7" dy="14.7"># maxlen</tspan></text><line x1="0" y1="107.5" x2="194" y2="107.5"/><text x="7" y="123">+ LengthGroupDivision()<tspan x="7" dy="14.7">+ LengthGroupDivision()</tspan><tspan x="7" dy="14.7">+ LengthGroupDivision()</tspan><tspan x="7" dy="14.7">+ ~LengthGroupDivision()</tspan><tspan x="7" dy="14.7">+ meanLength()</tspan><tspan x="7" dy="14.7">+ minLength()</tspan><tspan x="7" dy="14.7">+ maxLength()</tspan><tspan x="7" dy="14.7">+ minLength()</tspan><tspan x="7" dy="14.7">+ maxLength()</tspan><tspan x="7" dy="14.7">+ dl()</tspan><tspan x="7" dy="14.7">and 6 more...</tspan></text></g>
<g id="n_LivesOnAreas" transform="translate(3022,829)"><rect width="145" height="161.6"/><text class="t" x="72.5" y="17">LivesOnAreas</text><line x1="0" y1="24" x2="145" y2="24"/><line x1="0" y1="48.7" x2="145" y2="48.7"/><text x="7" y="64.2">+ LivesOnAreas()<tspan x="7" dy="14.7">+ ~LivesOnAreas()</tspan><tspan x="7" dy="14.7">+ LivesOnAreas()</tspan><tspan x="7" dy="14.7">+ isInArea()</tspan><tspan x="7" dy="14.7">+ getAreas()</tspan><tspan x="7" dy="14.7">+ areaNum()</tspan><tspan x="7" dy="14.7"># storeAreas()</tspan></text></g>
<g id="n_HasName" transform="translate(4054,850)"><rect width="122" height="117.5"/><text class="t" x="61" y="17">HasName</text><line x1="0" y1="24" x2="122" y2="24"/><line x1="0" y1="48.7" x2="122" y2="48.7"/><text x="7" y="64.2">+ HasName()<tspan x="7" dy="14.7">+ ~HasName()</tspan><tspan x="7" dy="14.7">+ HasName()</tspan><tspan x="7" dy="14.7">+ getName()</tspan></text></g>
<g id="n_ConversionIndex" transform="translate(4490,740)"><rect width="169" height="338"/><text class="t" x="84.5" y="17">ConversionIndex</text><line x1="0" y1="24" x2="169" y2="24"/><text x="7" y="39.5"># error<tspan x="7" dy="14.7"># samedl</tspan><tspan x="7" dy="14.7"># offset</tspan><tspan x="7" dy="14.7"># isfiner</tspan><tspan x="7" dy="14.7"># minlength</tspan><tspan x="7" dy="14.7"># maxlength</tspan><tspan x="7" dy="14.7"># interpolate</tspan></text><line x1="0" y1="136.9" x2="169" y2="136.9"/><text x="7" y="152.4">+ ConversionIndex()<tspan x="7" dy="14.7">+ ~ConversionIndex()</tspan><tspan x="7" dy="14.7">+ Error()</tspan><tspan x="7" dy="14.7">+ minLength()</tspan><tspan x="7" dy="14.7">+ maxLength()</tspan><tspan x="7" dy="14.7">+ isSameDl()</tspan><tspan x="7" dy="14.7">+ getOffset()</tspan><tspan x="7" dy="14.7">+ isFiner()</tspan><tspan x="7" dy="14.7">+ getPos()</tspan><tspan x="7" dy="14.7">+ getNumPos()</tspan><tspan x="7" dy="14.7">+ minPos()</tspan><tspan x="7" dy="14.7">+ maxPos()</tspan><tspan x="7" dy="14.7">+ interpolateLengths()</tspan></text></g>
<g id="n_DoubleMatrixPtrVector" transform="translate(5917,807)"><rect width="206" height="205.7"/><text class="t" x="103" y="17">DoubleMatrixPtrVector</text><line x1="0" y1="24" x2="206" y2="24"/><text x="7" y="39.5"># size</text><line x1="0" y1="48.7" x2="206" y2="48.7"/><text x="7" y="64.2">+ DoubleMatrixPtrVector()<tspan x="7" dy="14.7">+ DoubleMatrixPtrVector()</tspan><tspan x="7" dy="14.7">+ DoubleMatrixPtrVector()</tspan><tspan x="7" dy="14.7">+ ~DoubleMatrixPtrVector()</tspan><tspan x="7" dy="14.7">+ resizeBlank()</tspan><tspan x="7" dy="14.7">+ resize()</tspan><tspan x="7" dy="14.7">+ Delete()</tspan><tspan x="7" dy="14.7">+ Size()</tspan><tspan x="7" dy="14.7">+ operator[]()</tspan><tspan x="7" dy="14.7">+ operator[]()</tspan></text></g>
<g id="n_ModelVariableVector" transform="translate(6362,799)"><rect width="191" height="220.4"/><text class="t" x="95.5" y="17">ModelVariableVector</text><line x1="0" y1="24" x2="191" y2="24"/><text x="7" y="39.5"># size</text><line x1="0" y1="48.7" x2="191" y2="48.7"/><text x="7" y="64.2">+ ModelVariableVector()<tspan x="7" dy="14.7">+ ~ModelVariableVector()</tspan><tspan x="7" dy="14.7">+ setsize()</tspan><tspan x="7" dy="14.7">+ resize()</tspan><tspan x="7" dy="14.7">+ resize()</tspan><tspan x="7" dy="14.7">+ Size()</tspan><tspan x="7" dy="14.7">+ read()</tspan><tspan x="7" dy="14.7">+ operator[]()</tspan><tspan x="7" dy="14.7">+ operator[]()</tspan><tspan x="7" dy="14.7">+ didChange()</tspan><tspan x="7" dy="14.7">+ Update()</tspan></text></g>
<g id="n_PopInfoMatrix" transform="translate(6604,807)"><rect width="148" height="205.7"/><text class="t" x="74" y="17">PopInfoMatrix</text><line x1="0" y1="24" x2="148" y2="24"/><text x="7" y="39.5"># nrow</text><line x1="0" y1="48.7" x2="148" y2="48.7"/><text x="7" y="64.2">+ PopInfoMatrix()<tspan x="7" dy="14.7">+ PopInfoMatrix()</tspan><tspan x="7" dy="14.7">+ PopInfoMatrix()</tspan><tspan x="7" dy="14.7">+ ~PopInfoMatrix()</tspan><tspan x="7" dy="14.7">+ Ncol()</tspan><tspan x="7" dy="14.7">+ Nrow()</tspan><tspan x="7" dy="14.7">+ operator[]()</tspan><tspan x="7" dy="14.7">+ operator[]()</tspan><tspan x="7" dy="14.7">+ AddRows()</tspan><tspan x="7" dy="14.7">+ Delete()</tspan></text></g>
<g id="n_AgeBandMatrix" transform="translate(6963,792)"><rect width="158" height="235.1"/><text class="t" x="79" y="17">AgeBandMatrix</text><line x1="0" y1="24" x2="158" y2="24"/><text x="7" y="39.5"># minage<tspan x="7" dy="14.7"># nrow</tspan></text><line x1="0" y1="63.4" x2="158" y2="63.4"/><text x="7" y="78.9">+ AgeBandMatrix()<tspan x="7" dy="14.7">+ AgeBandMatrix()</tspan><tspan x="7" dy="14.7">+ AgeBandMatrix()</tspan><tspan x="7" dy="14.7">+ AgeBandMatrix()</tspan><tspan x="7" dy="14.7">+ AgeBandMatrix()</tspan><tspan x="7" dy="14.7">+ ~AgeBandMatrix()</tspan><tspan x="7" dy="14.7">+ minAge()</tspan><tspan x="7" dy="14.7">+ maxAge()</tspan><tspan x="7" dy="14.7">+ Nrow()</tspan><tspan x="7" dy="14.7">+ operator[]()</tspan><tspan x="7" dy="14.7">and 15 more...</tspan></text></g>
<g id="n_AgeBandMatrixRatio" transform="translate(500,1233)"><rect width="189" height="235.1"/><text class="t" x="94.5" y="17">AgeBandMatrixRatio</text><line x1="0" y1="24" x2="189" y2="24"/><text x="7" y="39.5"># minage<tspan x="7" dy="14.7"># nrow</tspan></text><line x1="0" y1="63.4" x2="189" y2="63.4"/><text x="7" y="78.9">+ AgeBandMatrixRatio()<tspan x="7" dy="14.7">+ AgeBandMatrixRatio()</tspan><tspan x="7" dy="14.7">+ AgeBandMatrixRatio()</tspan><tspan x="7" dy="14.7">+ AgeBandMatrixRatio()</tspan><tspan x="7" dy="14.7">+ AgeBandMatrixRatio()</tspan><tspan x="7" dy="14.7">+ ~AgeBandMatrixRatio()</tspan><tspan x="7" dy="14.7">+ minAge()</tspan><tspan x="7" dy="14.7">+ maxAge()</tspan><tspan x="7" dy="14.7">+ Nrow()</tspan><tspan x="7" dy="14.7">+ minLength()</tspan><tspan x="7" dy="14.7">and 11 more...</tspan></text></g>
<g id="n_CharPtrVector" transform="translate(715,1233)"><rect width="146" height="235.1"/><text class="t" x="73" y="17">CharPtrVector</text><line x1="0" y1="24" x2="146" y2="24"/><text x="7" y="39.5"># v<tspan x="7" dy="14.7"># size</tspan></text><line x1="0" y1="63.4" x2="146" y2="63.4"/><text x="7" y="78.9">+ CharPtrVector()<tspan x="7" dy="14.7">+ CharPtrVector()</tspan><tspan x="7" dy="14.7">+ ~CharPtrVector()</tspan><tspan x="7" dy="14.7">+ resizeBlank()</tspan><tspan x="7" dy="14.7">+ resize()</tspan><tspan x="7" dy="14.7">+ Delete()</tspan><tspan x="7" dy="14.7">+ Size()</tspan><tspan x="7" dy="14.7">+ operator[]()</tspan><tspan x="7" dy="14.7">+ operator[]()</tspan><tspan x="7" dy="14.7">+ Reset()</tspan><tspan x="7" dy="14.7">+ operator=()</tspan></text></g>
<g id="n_AgeBandMatrixRatioPtrVector" transform="translate(773,1622)"><rect width="251" height="235.1"/><text class="t" x="125.5" y="17">AgeBandMatrixRatioPtrVector</text><line x1="0" y1="24" x2="251" y2="24"/><text x="7" y="39.5"># size</text><line x1="0" y1="48.7" x2="251" y2="48.7"/><text x="7" y="64.2">+ AgeBandMatrixRatioPtrVector()<tspan x="7" dy="14.7">+ AgeBandMatrixRatioPtrVector()</tspan><tspan x="7" dy="14.7">+ AgeBandMatrixRatioPtrVector()</tspan><tspan x="7" dy="14.7">+ ~AgeBandMatrixRatioPtrVector()</tspan><tspan x="7" dy="14.7">+ resize()</tspan><tspan x="7" dy="14.7">+ resize()</tspan><tspan x="7" dy="14.7">+ addTag()</tspan><tspan x="7" dy="14.7">+ addTag()</tspan><tspan x="7" dy="14.7">+ deleteTag()</tspan><tspan x="7" dy="14.7">+ Size()</tspan><tspan x="7" dy="14.7">and 8 more...</tspan><tspan x="7" dy="14.7"># addTagName()</tspan></text></g>
<g id="n_Maturity" transform="translate(1777,1593)"><rect width="182" height="293.9"/><text class="t" x="91" y="17">Maturity</text><line x1="0" y1="24" x2="182" y2="24"/><text x="7" y="39.5"># tmpratio<tspan x="7" dy="14.7"># ratioscale</tspan></text><line x1="0" y1="63.4" x2="182" y2="63.4"/><text x="7" y="78.9">+ Maturity()<tspan x="7" dy="14.7">+ Maturity()</tspan><tspan x="7" dy="14.7">+ ~Maturity()</tspan><tspan x="7" dy="14.7">+ setStock()</tspan><tspan x="7" dy="14.7">+ Print()</tspan><tspan x="7" dy="14.7">+ Reset()</tspan><tspan x="7" dy="14.7">+ isMaturationStep()</tspan><tspan x="7" dy="14.7">+ calcMaturation()</tspan><tspan x="7" dy="14.7">+ storeMatureStock()</tspan><tspan x="7" dy="14.7">+ storeMatureTagStock()</tspan><tspan x="7" dy="14.7">+ Move()</tspan><tspan x="7" dy="14.7">+ getMatureStocks()</tspan><tspan x="7" dy="14.7">+ setTagged()</tspan><tspan x="7" dy="14.7">+ addMaturityTag()</tspan><tspan x="7" dy="14.7">+ deleteMaturityTag()</tspan></text></g>
<g id="n_FormulaMatrixPtrVector" transform="translate(1895,1262)"><rect width="213" height="176.3"/><text class="t" x="106.5" y="17">FormulaMatrixPtrVector</text><line x1="0" y1="24" x2="213" y2="24"/><text x="7" y="39.5"># size</text><line x1="0" y1="48.7" x2="213" y2="48.7"/><text x="7" y="64.2">+ FormulaMatrixPtrVector()<tspan x="7" dy="14.7">+ FormulaMatrixPtrVector()</tspan><tspan x="7" dy="14.7">+ ~FormulaMatrixPtrVector()</tspan><tspan x="7" dy="14.7">+ resize()</tspan><tspan x="7" dy="14.7">+ Delete()</tspan><tspan x="7" dy="14.7">+ Size()</tspan><tspan x="7" dy="14.7">+ operator[]()</tspan><tspan x="7" dy="14.7">+ operator[]()</tspan></text></g>
<g id="n_Migration" transform="translate(2838,1269)"><rect width="171" height="161.6"/><text class="t" x="85.5" y="17">Migration</text><line x1="0" y1="24" x2="171" y2="24"/><line x1="0" y1="48.7" x2="171" y2="48.7"/><text x="7" y="64.2">+ Migration()<tspan x="7" dy="14.7">+ ~Migration()</tspan><tspan x="7" dy="14.7">+ Reset()</tspan><tspan x="7" dy="14.7">+ Print()</tspan><tspan x="7" dy="14.7">+ getMigrationMatrix()</tspan><tspan x="7" dy="14.7">+ getPenalty()</tspan><tspan x="7" dy="14.7">+ isMigrationStep()</tspan></text></g>
<g id="n_Predator" transform="translate(3238,1233)"><rect width="185" height="235.1"/><text class="t" x="92.5" y="17">Predator</text><line x1="0" y1="24" x2="185" y2="24"/><text x="7" y="39.5"># type</text><line x1="0" y1="48.7" x2="185" y2="48.7"/><text x="7" y="64.2">+ Predator()<tspan x="7" dy="14.7">+ ~Predator()</tspan><tspan x="7" dy="14.7">+ Eat()</tspan><tspan x="7" dy="14.7">+ setPrey()</tspan><tspan x="7" dy="14.7">+ doesEat()</tspan><tspan x="7" dy="14.7">+ adjustConsumption()</tspan><tspan x="7" dy="14.7">+ Print()</tspan><tspan x="7" dy="14.7">+ Reset()</tspan><tspan x="7" dy="14.7">+ getConsumption()</tspan><tspan x="7" dy="14.7">+ hasOverConsumption()</tspan><tspan x="7" dy="14.7">and 15 more...</tspan><tspan x="7" dy="14.7"># readSuitability()</tspan></text></g>
<g id="n_BaseClass" transform="translate(3449,1239)"><rect width="131" height="220.4"/><text class="t" x="65.5" y="17">BaseClass</text><line x1="0" y1="24" x2="131" y2="24"/><line x1="0" y1="48.7" x2="131" y2="48.7"/><text x="7" y="64.2">+ BaseClass()<tspan x="7" dy="14.7">+ BaseClass()</tspan><tspan x="7" dy="14.7">+ BaseClass()</tspan><tspan x="7" dy="14.7">+ ~BaseClass()</tspan><tspan x="7" dy="14.7">+ calcNumbers()</tspan><tspan x="7" dy="14.7">+ calcEat()</tspan><tspan x="7" dy="14.7">+ checkEat()</tspan><tspan x="7" dy="14.7">+ adjustEat()</tspan><tspan x="7" dy="14.7">+ reducePop()</tspan><tspan x="7" dy="14.7">+ Grow()</tspan><tspan x="7" dy="14.7">and 11 more...</tspan></text></g>
<g id="n_GrowthCalcBase" transform="translate(3809,1284)"><rect width="163" height="132.2"/><text class="t" x="81.5" y="17">GrowthCalcBase</text><line x1="0" y1="24" x2="163" y2="24"/><line x1="0" y1="48.7" x2="163" y2="48.7"/><text x="7" y="64.2">+ GrowthCalcBase()<tspan x="7" dy="14.7">+ ~GrowthCalcBase()</tspan><tspan x="7" dy="14.7">+ calcGrowth()</tspan><tspan x="7" dy="14.7">+ getPower()</tspan><tspan x="7" dy="14.7">+ getMult()</tspan></text></g>
<g id="n_Tags" transform="translate(4126,1239)"><rect width="190" height="220.4"/><text class="t" x="95" y="17">Tags</text><line x1="0" y1="24" x2="190" y2="24"/><line x1="0" y1="48.7" x2="190" y2="48.7"/><text x="7" y="64.2">+ Tags()<tspan x="7" dy="14.7">+ ~Tags()</tspan><tspan x="7" dy="14.7">+ Update()</tspan><tspan x="7" dy="14.7">+ updateTags()</tspan><tspan x="7" dy="14.7">+ deleteStockTags()</tspan><tspan x="7" dy="14.7">+ getEndYear()</tspan><tspan x="7" dy="14.7">+ getNumTagTimeSteps()</tspan><tspan x="7" dy="14.7">+ getStockNames()</tspan><tspan x="7" dy="14.7">+ setStock()</tspan><tspan x="7" dy="14.7">+ updateMatureStock()</tspan><tspan x="7" dy="14.7">and 10 more...</tspan></text></g>
<g id="n_ConversionIndexPtrVector" transform="translate(4649,1262)"><rect width="225" height="176.3"/><text class="t" x="112.5" y="17">ConversionIndexPtrVector</text><line x1="0" y1="24" x2="225" y2="24"/><text x="7" y="39.5"># size</text><line x1="0" y1="48.7" x2="225" y2="48.7"/><text x="7" y="64.2">+ ConversionIndexPtrVector()<tspan x="7" dy="14.7">+ ConversionIndexPtrVector()</tspan><tspan x="7" dy="14.7">+ ~ConversionIndexPtrVector()</tspan><tspan x="7" dy="14.7">+ resize()</tspan><tspan x="7" dy="14.7">+ Delete()</tspan><tspan x="7" dy="14.7">+ Size()</tspan><tspan x="7" dy="14.7">+ operator[]()</tspan><tspan x="7" dy="14.7">+ operator[]()</tspan></text></g>
<g id="n_SelectFunc" transform="translate(5000,1269)"><rect width="156" height="161.6"/><text class="t" x="78" y="17">SelectFunc</text><line x1="0" y1="24" x2="156" y2="24"/><line x1="0" y1="48.7" x2="156" y2="48.7"/><text x="7" y="64.2">+ SelectFunc()<tspan x="7" dy="14.7">+ ~SelectFunc()</tspan><tspan x="7" dy="14.7">+ readConstants()</tspan><tspan x="7" dy="14.7">+ updateConstants()</tspan><tspan x="7" dy="14.7">+ didChange()</tspan><tspan x="7" dy="14.7">+ calculate()</tspan><tspan x="7" dy="14.7">+ numConstants()</tspan></text></g>
<g id="n_Prey" transform="translate(5309,1239)"><rect width="214" height="220.4"/><text class="t" x="107" y="17">Prey</text><line x1="0" y1="24" x2="214" y2="24"/><text x="7" y="39.5"># type</text><line x1="0" y1="48.7" x2="214" y2="48.7"/><text x="7" y="64.2">+ Prey()<tspan x="7" dy="14.7">+ Prey()</tspan><tspan x="7" dy="14.7">+ ~Prey()</tspan><tspan x="7" dy="14.7">+ Sum()</tspan><tspan x="7" dy="14.7">+ Sum()</tspan><tspan x="7" dy="14.7">+ Reset()</tspan><tspan x="7" dy="14.7">+ Print()</tspan><tspan x="7" dy="14.7">+ setCI()</tspan><tspan x="7" dy="14.7">+ Subtract()</tspan><tspan x="7" dy="14.7">+ addBiomassConsumption()</tspan><tspan x="7" dy="14.7">and 16 more...</tspan></text></g>
<g id="n_DoubleMatrixPtrMatrix" transform="translate(5939,1262)"><rect width="206" height="176.3"/><text class="t" x="103" y="17">DoubleMatrixPtrMatrix</text><line x1="0" y1="24" x2="206" y2="24"/><text x="7" y="39.5"># nrow</text><line x1="0" y1="48.7" x2="206" y2="48.7"/><text x="7" y="64.2">+ DoubleMatrixPtrMatrix()<tspan x="7" dy="14.7">+ ~DoubleMatrixPtrMatrix()</tspan><tspan x="7" dy="14.7">+ Ncol()</tspan><tspan x="7" dy="14.7">+ Nrow()</tspan><tspan x="7" dy="14.7">+ operator[]()</tspan><tspan x="7" dy="14.7">+ operator[]()</tspan><tspan x="7" dy="14.7">+ resize()</tspan><tspan x="7" dy="14.7">+ Delete()</tspan></text></g>
<g id="n_AgeBandMatrixPtrVector" transform="translate(6797,1218)"><rect width="217" height="264.5"/><text class="t" x="108.5" y="17">AgeBandMatrixPtrVector</text><line x1="0" y1="24" x2="217" y2="24"/><text x="7" y="39.5"># size</text><line x1="0" y1="48.7" x2="217" y2="48.7"/><text x="7" y="64.2">+ AgeBandMatrixPtrVector()<tspan x="7" dy="14.7">+ AgeBandMatrixPtrVector()</tspan><tspan x="7" dy="14.7">+ AgeBandMatrixPtrVector()</tspan><tspan x="7" dy="14.7">+ AgeBandMatrixPtrVector()</tspan><tspan x="7" dy="14.7">+ ~AgeBandMatrixPtrVector()</tspan><tspan x="7" dy="14.7">+ resize()</tspan><tspan x="7" dy="14.7">+ resize()</tspan><tspan x="7" dy="14.7">+ resize()</tspan><tspan x="7" dy="14.7">+ resize()</tspan><tspan x="7" dy="14.7">+ Delete()</tspan><tspan x="7" dy="14.7">+ Size()</tspan><tspan x="7" dy="14.7">+ operator[]()</tspan><tspan x="7" dy="14.7">+ operator[]()</tspan><tspan x="7" dy="14.7">+ Migrate()</tspan></text></g>
<g id="n_InitialCond" transform="translate(2235,1651)"><rect width="223" height="176.3"/><text class="t" x="111.5" y="17">InitialCond</text><line x1="0" y1="24" x2="223" y2="24"/><text x="7" y="39.5"># readoption</text><line x1="0" y1="48.7" x2="223" y2="48.7"/><text x="7" y="64.2">+ InitialCond()<tspan x="7" dy="14.7">+ ~InitialCond()</tspan><tspan x="7" dy="14.7">+ Initialise()</tspan><tspan x="7" dy="14.7">+ setCI()</tspan><tspan x="7" dy="14.7">+ Print()</tspan><tspan x="7" dy="14.7"># readNormalConditionData()</tspan><tspan x="7" dy="14.7"># readNormalParameterData()</tspan><tspan x="7" dy="14.7"># readNumberData()</tspan></text></g>
<g id="n_RenewalData" transform="translate(2981,1629)"><rect width="222" height="220.4"/><text class="t" x="111" y="17">RenewalData</text><line x1="0" y1="24" x2="222" y2="24"/><text x="7" y="39.5"># readoption<tspan x="7" dy="14.7"># index</tspan></text><line x1="0" y1="63.4" x2="222" y2="63.4"/><text x="7" y="78.9">+ RenewalData()<tspan x="7" dy="14.7">+ ~RenewalData()</tspan><tspan x="7" dy="14.7">+ addRenewal()</tspan><tspan x="7" dy="14.7">+ setCI()</tspan><tspan x="7" dy="14.7">+ Print()</tspan><tspan x="7" dy="14.7">+ Reset()</tspan><tspan x="7" dy="14.7">+ isRenewalStepArea()</tspan><tspan x="7" dy="14.7"># readNormalConditionData()</tspan><tspan x="7" dy="14.7"># readNormalParameterData()</tspan><tspan x="7" dy="14.7"># readNumberData()</tspan></text></g>
<g id="n_TagPtrVector" transform="translate(3564,1622)"><rect width="138" height="235.1"/><text class="t" x="69" y="17">TagPtrVector</text><line x1="0" y1="24" x2="138" y2="24"/><text x="7" y="39.5"># size</text><line x1="0" y1="48.7" x2="138" y2="48.7"/><text x="7" y="64.2">+ TagPtrVector()<tspan x="7" dy="14.7">+ TagPtrVector()</tspan><tspan x="7" dy="14.7">+ ~TagPtrVector()</tspan><tspan x="7" dy="14.7">+ resize()</tspan><tspan x="7" dy="14.7">+ Delete()</tspan><tspan x="7" dy="14.7">+ Size()</tspan><tspan x="7" dy="14.7">+ operator[]()</tspan><tspan x="7" dy="14.7">+ operator[]()</tspan><tspan x="7" dy="14.7">+ updateTags()</tspan><tspan x="7" dy="14.7">+ deleteTags()</tspan><tspan x="7" dy="14.7">+ deleteAllTags()</tspan><tspan x="7" dy="14.7">+ deleteAll()</tspan></text></g>
<g id="n_Grower" transform="translate(4439,1578)"><rect width="189" height="323.3"/><text class="t" x="94.5" y="17">Grower</text><line x1="0" y1="24" x2="189" y2="24"/><text x="7" y="39.5"># functionnumber<tspan x="7" dy="14.7"># fixedweights</tspan><tspan x="7" dy="14.7"># maxlengthgroupgrowth</tspan><tspan x="7" dy="14.7"># growth</tspan><tspan x="7" dy="14.7"># alpha</tspan><tspan x="7" dy="14.7"># part3</tspan></text><line x1="0" y1="122.2" x2="189" y2="122.2"/><text x="7" y="137.7">+ Grower()<tspan x="7" dy="14.7">+ ~Grower()</tspan><tspan x="7" dy="14.7">+ calcGrowth()</tspan><tspan x="7" dy="14.7">+ calcGrowth()</tspan><tspan x="7" dy="14.7">+ implementGrowth()</tspan><tspan x="7" dy="14.7">+ implementGrowth()</tspan><tspan x="7" dy="14.7">+ Sum()</tspan><tspan x="7" dy="14.7">+ Reset()</tspan><tspan x="7" dy="14.7">+ Print()</tspan><tspan x="7" dy="14.7">+ getLengthIncrease()</tspan><tspan x="7" dy="14.7">+ getWeightIncrease()</tspan><tspan x="7" dy="14.7">+ getWeight()</tspan><tspan x="7" dy="14.7">+ getFixedWeights()</tspan></text></g>
<g id="n_NaturalMortality" transform="translate(5031,1665)"><rect width="165" height="146.9"/><text class="t" x="82.5" y="17">NaturalMortality</text><line x1="0" y1="24" x2="165" y2="24"/><text x="7" y="39.5"># minStockAge<tspan x="7" dy="14.7"># readoption</tspan></text><line x1="0" y1="63.4" x2="165" y2="63.4"/><text x="7" y="78.9">+ NaturalMortality()<tspan x="7" dy="14.7">+ ~NaturalMortality()</tspan><tspan x="7" dy="14.7">+ getProportion()</tspan><tspan x="7" dy="14.7">+ Reset()</tspan><tspan x="7" dy="14.7">+ Print()</tspan></text></g>
<g id="n_PopPredator" transform="translate(5425,1629)"><rect width="216" height="220.4"/><text class="t" x="108" y="17">PopPredator</text><line x1="0" y1="24" x2="216" y2="24"/><line x1="0" y1="48.7" x2="216" y2="48.7"/><text x="7" y="64.2">+ PopPredator()<tspan x="7" dy="14.7">+ PopPredator()</tspan><tspan x="7" dy="14.7">+ ~PopPredator()</tspan><tspan x="7" dy="14.7">+ Print()</tspan><tspan x="7" dy="14.7">+ getConsumptionPopInfo()</tspan><tspan x="7" dy="14.7">+ getPredatorNumber()</tspan><tspan x="7" dy="14.7">+ getConsumption()</tspan><tspan x="7" dy="14.7">+ hasOverConsumption()</tspan><tspan x="7" dy="14.7">+ getOverConsumption()</tspan><tspan x="7" dy="14.7">+ getTotalOverConsumption()</tspan><tspan x="7" dy="14.7">and 6 more...</tspan></text></g>
<g id="n_StockPrey" transform="translate(6071,1659)"><rect width="180" height="161.6"/><text class="t" x="90" y="17">StockPrey</text><line x1="0" y1="24" x2="180" y2="24"/><line x1="0" y1="48.7" x2="180" y2="48.7"/><text x="7" y="64.2">+ StockPrey()<tspan x="7" dy="14.7">+ ~StockPrey()</tspan><tspan x="7" dy="14.7">+ Sum()</tspan><tspan x="7" dy="14.7">+ Print()</tspan><tspan x="7" dy="14.7">+ minAge()</tspan><tspan x="7" dy="14.7">+ maxAge()</tspan><tspan x="7" dy="14.7">+ getConsumptionALK()</tspan></text></g>
<g id="n_MaturityC" class="hl" transform="translate(2696,2104)"><rect width="159" height="191"/><text class="t" x="79.5" y="17">MaturityC</text><line x1="0" y1="24" x2="159" y2="24"/><text x="7" y="39.5"># minStockAge<tspan x="7" dy="14.7"># minMatureAge</tspan><tspan x="7" dy="14.7"># minMatureLength</tspan></text><line x1="0" y1="78.1" x2="159" y2="78.1"/><text x="7" y="93.6">+ MaturityC()<tspan x="7" dy="14.7">+ ~MaturityC()</tspan><tspan x="7" dy="14.7">+ setStock()</tspan><tspan x="7" dy="14.7">+ Reset()</tspan><tspan x="7" dy="14.7">+ isMaturationStep()</tspan><tspan x="7" dy="14.7">+ calcMaturation()</tspan><tspan x="7" dy="14.7">+ Print()</tspan></text></g>
<g id="n_Stock" transform="translate(3536,2012)"><rect width="195" height="367.4"/><text class="t" x="97.5" y="17">Stock</text><line x1="0" y1="24" x2="195" y2="24"/><text x="7" y="39.5"># doesmove<tspan x="7" dy="14.7"># iseaten</tspan><tspan x="7" dy="14.7"># doeseat</tspan><tspan x="7" dy="14.7"># doesspawn</tspan><tspan x="7" dy="14.7"># doesmature</tspan><tspan x="7" dy="14.7"># doesrenew</tspan><tspan x="7" dy="14.7"># doesgrow</tspan><tspan x="7" dy="14.7"># doesmigrate</tspan><tspan x="7" dy="14.7"># doesstray</tspan><tspan x="7" dy="14.7"># birthdate</tspan><tspan x="7" dy="14.7"># istagged</tspan></text><line x1="0" y1="195.7" x2="195" y2="195.7"/><text x="7" y="211.2">+ Stock()<tspan x="7" dy="14.7">+ Stock()</tspan><tspan x="7" dy="14.7">+ ~Stock()</tspan><tspan x="7" dy="14.7">+ calcNumbers()</tspan><tspan x="7" dy="14.7">+ reducePop()</tspan><tspan x="7" dy="14.7">+ Grow()</tspan><tspan x="7" dy="14.7">+ updateAgePart1()</tspan><tspan x="7" dy="14.7">+ updateAgePart2()</tspan><tspan x="7" dy="14.7">+ updateAgePart3()</tspan><tspan x="7" dy="14.7">+ updatePopulationPart1()</tspan><tspan x="7" dy="14.7">and 45 more...</tspan></text></g>
<g id="n_StrayData" transform="translate(1294,2732)"><rect width="170" height="279.2"/><text class="t" x="85" y="17">StrayData</text><line x1="0" y1="24" x2="170" y2="24"/><text x="7" y="39.5"># ratioscale<tspan x="7" dy="14.7"># minStrayLength</tspan><tspan x="7" dy="14.7"># istagged</tspan></text><line x1="0" y1="78.1" x2="170" y2="78.1"/><text x="7" y="93.6">+ StrayData()<tspan x="7" dy="14.7">+ ~StrayData()</tspan><tspan x="7" dy="14.7">+ Print()</tspan><tspan x="7" dy="14.7">+ setStock()</tspan><tspan x="7" dy="14.7">+ addStrayStock()</tspan><tspan x="7" dy="14.7">+ storeStrayingStock()</tspan><tspan x="7" dy="14.7">+ storeStrayingStock()</tspan><tspan x="7" dy="14.7">+ isStrayStepArea()</tspan><tspan x="7" dy="14.7">+ Reset()</tspan><tspan x="7" dy="14.7">+ getStrayStocks()</tspan><tspan x="7" dy="14.7">+ setTagged()</tspan><tspan x="7" dy="14.7">+ addStrayTag()</tspan><tspan x="7" dy="14.7">+ deleteStrayTag()</tspan></text></g>
<g id="n_StockPtrVector" transform="translate(1853,2445)"><rect width="152" height="205.7"/><text class="t" x="76" y="17">StockPtrVector</text><line x1="0" y1="24" x2="152" y2="24"/><text x="7" y="39.5"># size</text><line x1="0" y1="48.7" x2="152" y2="48.7"/><text x="7" y="64.2">+ StockPtrVector()<tspan x="7" dy="14.7">+ StockPtrVector()</tspan><tspan x="7" dy="14.7">+ ~StockPtrVector()</tspan><tspan x="7" dy="14.7">+ resize()</tspan><tspan x="7" dy="14.7">+ Delete()</tspan><tspan x="7" dy="14.7">+ Size()</tspan><tspan x="7" dy="14.7">+ Reset()</tspan><tspan x="7" dy="14.7">+ operator[]()</tspan><tspan x="7" dy="14.7">+ operator[]()</tspan><tspan x="7" dy="14.7">+ operator=()</tspan></text></g>
<g id="n_Transition" transform="translate(1841,2717)"><rect width="176" height="308.6"/><text class="t" x="88" y="17">Transition</text><line x1="0" y1="24" x2="176" y2="24"/><text x="7" y="39.5"># ratioscale<tspan x="7" dy="14.7"># transitionStep</tspan><tspan x="7" dy="14.7"># age</tspan><tspan x="7" dy="14.7"># minTransitionLength</tspan><tspan x="7" dy="14.7"># istagged</tspan></text><line x1="0" y1="107.5" x2="176" y2="107.5"/><text x="7" y="123">+ Transition()<tspan x="7" dy="14.7">+ ~Transition()</tspan><tspan x="7" dy="14.7">+ setStock()</tspan><tspan x="7" dy="14.7">+ storeTransitionStock()</tspan><tspan x="7" dy="14.7">+ storeTransitionStock()</tspan><tspan x="7" dy="14.7">+ Move()</tspan><tspan x="7" dy="14.7">+ Print()</tspan><tspan x="7" dy="14.7">+ getTransitionStocks()</tspan><tspan x="7" dy="14.7">+ setTagged()</tspan><tspan x="7" dy="14.7">+ addTransitionTag()</tspan><tspan x="7" dy="14.7">+ deleteTransitionTag()</tspan><tspan x="7" dy="14.7">+ Reset()</tspan><tspan x="7" dy="14.7">+ isTransitionStep()</tspan></text></g>
<g id="n_SpawnData" transform="translate(4779,2723)"><rect width="170" height="293.9"/><text class="t" x="85" y="17">SpawnData</text><line x1="0" y1="24" x2="170" y2="24"/><text x="7" y="39.5"># ratioscale<tspan x="7" dy="14.7"># spawnFirstYear</tspan><tspan x="7" dy="14.7"># spawnLastYear</tspan><tspan x="7" dy="14.7"># onlyParent</tspan><tspan x="7" dy="14.7"># spawnAge</tspan><tspan x="7" dy="14.7"># functionnumber</tspan><tspan x="7" dy="14.7"># functionname</tspan></text><line x1="0" y1="136.9" x2="170" y2="136.9"/><text x="7" y="152.4">+ SpawnData()<tspan x="7" dy="14.7">+ ~SpawnData()</tspan><tspan x="7" dy="14.7">+ setStock()</tspan><tspan x="7" dy="14.7">+ addSpawnStock()</tspan><tspan x="7" dy="14.7">+ Spawn()</tspan><tspan x="7" dy="14.7">+ isSpawnStepArea()</tspan><tspan x="7" dy="14.7">+ Print()</tspan><tspan x="7" dy="14.7">+ Reset()</tspan><tspan x="7" dy="14.7"># calcSpawnNumber()</tspan><tspan x="7" dy="14.7"># calcRecruitNumber()</tspan></text></g>
</svg>
